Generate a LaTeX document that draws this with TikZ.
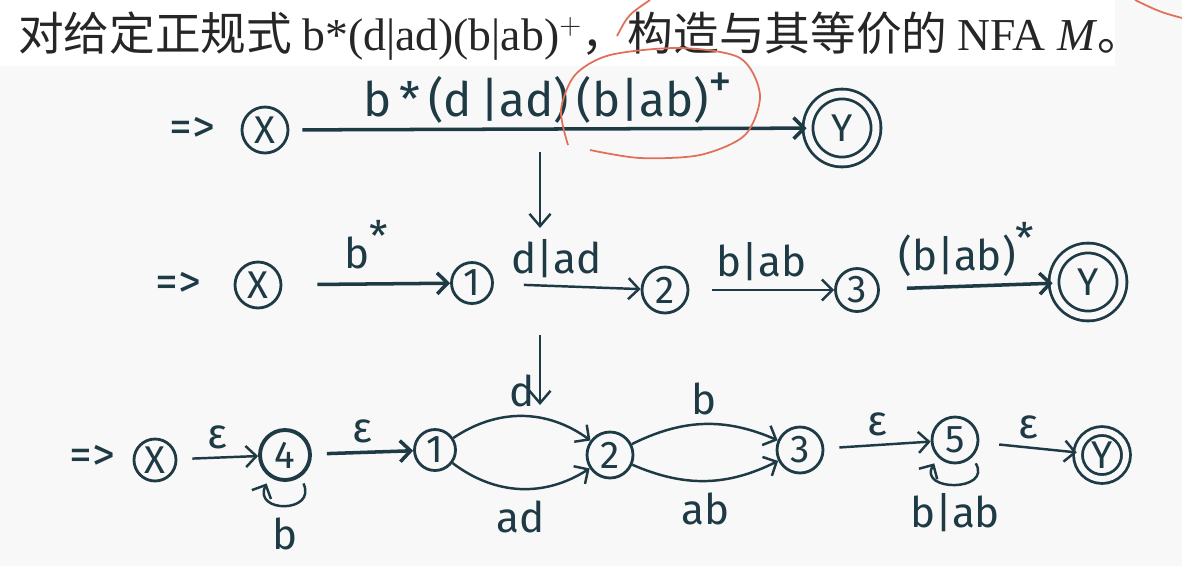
\documentclass[tikz,border=0pt]{standalone}
\usepackage{fontspec}
\setmainfont{Liberation Serif}
\newfontfamily\cjk{Noto Sans CJK SC}
\newfontfamily\hand{Fira Sans}
\usetikzlibrary{arrows.meta,positioning}

\definecolor{ink}{HTML}{1E3A44}
\definecolor{redink}{HTML}{E0705A}
\definecolor{paper}{HTML}{F8F8F8}

\newcommand{\upmark}[1]{\raisebox{0.4em}{#1}}

\tikzset{
  nstate/.style={circle,draw=ink,line width=1.6pt,inner sep=0pt,minimum size=0.92cm,
    text=ink,font=\hand\fontsize{22}{22}\selectfont},
  fstate/.style={nstate,double=paper,double distance=0.14cm,minimum size=1.36cm},
  trans/.style={ink,line width=1.4pt,-{Straight Barb[length=6pt,width=12pt]}},
  lbl/.style={text=ink,font=\hand\fontsize{24}{24}\selectfont},
  start/.style={text=ink,font=\hand\fontsize{26}{26}\selectfont},
  down/.style={ink,line width=1.4pt,-{Straight Barb[length=7pt,width=12pt]}}
}

\begin{document}
\begin{tikzpicture}[x=0.02cm,y=-0.02cm]
  % background and title
  \fill[paper] (0,0) rectangle (1182,566);
  \fill[white] (0,0) rectangle (1115,66);
  \useasboundingbox (0,0) rectangle (1182,566);
  \node[anchor=west,text=black!85,font=\fontsize{26}{30}\selectfont] (title) at (12,36)
    {\cjk 对给定正规式 {\rmfamily b*(d|ad)(b|ab)$^+$}，构造与其等价的 {\rmfamily NFA \textit{M}}。};

  % first line
  \node[start] (s0) at (192,130) {=>};
  \node[nstate] (x0) at (265,130) {X};
  \node[fstate] (y0) at (842,128) {Y};
  \draw[trans,line width=2pt,shorten <=0.26cm] (x0) -- (y0)
    node[lbl,midway,above=-1pt,font=\hand\fontsize{27}{27}\selectfont] {b\,*\,(d\,|ad)\,(b|ab)\upmark{+}};

  % red mark
  \draw[redink,line width=1pt] plot[smooth] coordinates {(568,145) (561,110) (575,75) (610,55) (680,48) (740,58) (760,95) (745,135) (700,155) (640,158) (590,150)};
  \draw[redink,line width=1pt] (617,36) .. controls (628,15) .. (650,0);
  \draw[redink,line width=1pt] (1135,0) .. controls (1160,12) .. (1182,18);

  \coordinate (d1a) at (540,152);
  \coordinate (d1b) at (540,228);
  \draw[down] (d1a) -- (d1b);

  % second line
  \node[start] (s1) at (178,285) {=>};
  \node[nstate] (x1) at (258,285) {X};
  \node[nstate,minimum size=0.82cm] (n1) at (472,283) {1};
  \node[nstate] (n2) at (665,290) {2};
  \node[nstate,minimum size=0.86cm] (n3) at (857,290) {3};
  \node[fstate] (y1) at (1088,282) {Y};
  \draw[trans,line width=2pt,shorten <=0.7cm] (x1) -- (n1) node[lbl,midway,above=4pt] {b\upmark{*}};
  \draw[trans,shorten <=0.6cm] (n1) -- (n2) node[lbl,midway,above=1pt,xshift=-6pt] {d|ad};
  \draw[trans,shorten <=0.46cm] (n2) -- (n3) node[lbl,midway,above=1pt] {b|ab};
  \draw[trans,line width=2pt,shorten <=0.54cm] (n3) -- (y1) node[lbl,midway,above=1pt] {(b|ab)\upmark{*}};

  \coordinate (d2a) at (540,335);
  \coordinate (d2b) at (540,405);
  \draw[down] (d2a) -- (d2b);

  % third line
  \node[start] (s2) at (92,458) {=>};
  \node[nstate,minimum size=0.84cm] (x2) at (155,460) {X};
  \node[nstate,minimum size=1cm,line width=2.2pt] (n4) at (285,455) {4};
  \node[nstate,minimum size=0.82cm] (m1) at (435,450) {1};
  \node[nstate] (m2) at (610,455) {2};
  \node[nstate] (m3) at (800,450) {3};
  \node[nstate] (n5) at (955,440) {5};
  \node[fstate,minimum size=0.96cm,double distance=0.12cm] (y2) at (1102,455) {Y};
  \draw[trans,shorten <=0.3cm] (x2) -- (n4) node[lbl,midway,above=1pt] {ε};
  \draw[trans,line width=2pt,shorten <=0.3cm] (n4) -- (m1) node[lbl,midway,above=1pt] {ε};
  \draw[trans] (m1) to[bend left=35] node[lbl,above=1pt] {d} (m2);
  \draw[trans] (m1) to[bend right=35] node[lbl,below=3pt] {ad} (m2);
  \draw[trans] (m2) to[bend left=25] node[lbl,above=1pt] {b} (m3);
  \draw[trans] (m2) to[bend right=25] node[lbl,below=3pt] {ab} (m3);
  \draw[trans,shorten <=0.3cm] (m3) -- (n5) node[lbl,midway,above=1pt] {ε};
  \draw[trans,shorten <=0.4cm] (n5) -- (y2) node[lbl,midway,above=1pt] {ε};
  \draw[trans,shorten <=4pt,shorten >=4pt] (n4.-55) .. controls +(-65:0.8cm) and +(-115:0.8cm) .. (n4.-125)
    node[lbl,pos=0.5,below=4pt] {b};
  \draw[trans,shorten <=4pt,shorten >=4pt] (n5.-45) .. controls +(-60:0.8cm) and +(-120:0.8cm) .. (n5.-135)
    node[lbl,pos=0.5,below=2pt] {b|ab};
\end{tikzpicture}
\end{document}
